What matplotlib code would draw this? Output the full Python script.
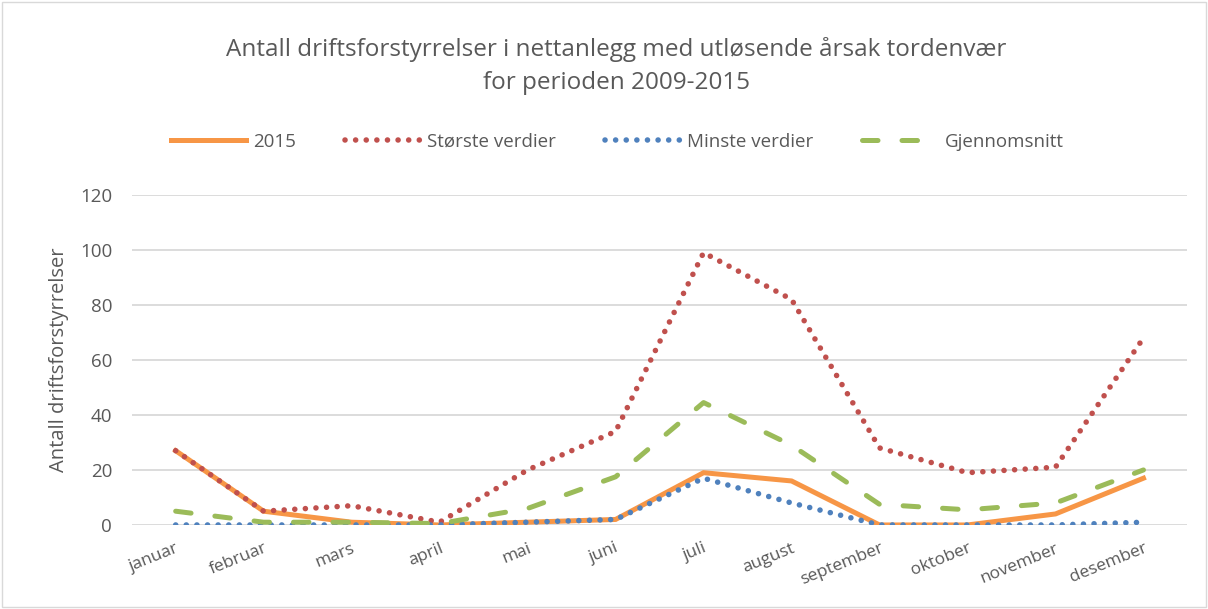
import matplotlib.pyplot as plt
from matplotlib.patches import Rectangle

# data
maaneder = ['januar', 'februar', 'mars', 'april', 'mai', 'juni', 'juli',
            'august', 'september', 'oktober', 'november', 'desember']
aar_2015 = [27, 5, 1, 0, 1, 2, 19, 16, 0, 0, 4, 17]
storste = [27, 5, 7, 1, 20, 34, 99, 82, 28, 19, 21, 68]
minste = [0, 0, 0, 0, 1, 2, 17, 8, 0, 0, 0, 1]
snitt = [5, 1, 1, 0.5, 6, 17.5, 44.5, 29, 7.5, 5.5, 8, 20]
y_ticks = [0, 20, 40, 60, 80, 100, 120]

plt.rcParams['font.family'] = ['Open Sans', 'DejaVu Sans']
grey = '#595959'

fig = plt.figure(figsize=(12.08, 6.09), dpi=100)
ax = fig.add_axes([0.109, 0.138, 0.874, 0.542])

x = range(len(maaneder))
ax.plot(x, aar_2015, color='#F79646', lw=3.6, solid_joinstyle='miter', label='2015', zorder=3)
ax.plot(x, storste, color='#C0504D', lw=4.0, linestyle=(0, (0.01, 1.9)),
        dash_capstyle='round', label='Største verdier', zorder=4)
ax.plot(x, minste, color='#4F81BD', lw=4.0, linestyle=(0, (0.01, 1.9)),
        dash_capstyle='round', label='Minste verdier', zorder=5)
ax.plot(x, snitt, color='#9BBB59', lw=3.6, linestyle=(0, (3.1, 4.8)),
        dash_capstyle='round', label='Gjennomsnitt', zorder=6)

ax.set_xlim(-0.5, 11.5)
ax.set_ylim(0, 120)
ax.set_yticks(y_ticks)
ax.set_xticks(list(x))
ax.set_xticklabels(maaneder, rotation=22, ha='right', rotation_mode='anchor')
ax.tick_params(axis='x', length=0, labelsize=12.5, colors=grey, pad=11)
ax.tick_params(axis='y', length=0, labelsize=13.5, colors=grey, pad=14)
ax.grid(axis='y', color='#D9D9D9', lw=1.3)
ax.set_axisbelow(True)
for s in ax.spines.values():
    s.set_visible(False)
ax.set_ylabel('Antall driftsforstyrrelser', fontsize=14.5, color=grey, labelpad=8)

fig.suptitle('Antall driftsforstyrrelser i nettanlegg med utløsende årsak tordenvær\nfor perioden 2009-2015',
             x=0.51, y=0.94, fontsize=17.5, color=grey, linespacing=1.5)
fig.legend(loc='center', bbox_to_anchor=(0.511, 0.767), ncol=4, frameon=False,
           fontsize=13.5, labelcolor=grey, handlelength=4.0, columnspacing=2.6, handletextpad=0.4)

fig.patches.append(Rectangle((0.002, 0.003), 0.996, 0.994, transform=fig.transFigure,
                             fill=False, edgecolor='#D9D9D9', lw=1))

fig.savefig('out.png', dpi=100)
